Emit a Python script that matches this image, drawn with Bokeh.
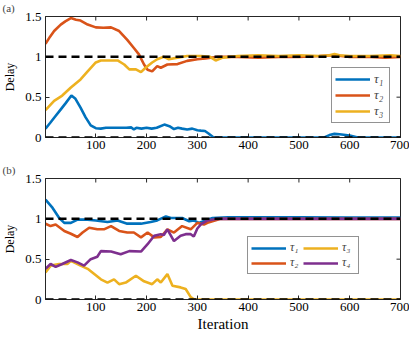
import math
from bokeh.plotting import figure
from bokeh.layouts import column
from bokeh.models import Range1d, Span, Legend, LegendItem, FixedTicker
from bokeh.embed import file_html
from bokeh.resources import INLINE

# ---------------- data ----------------
x_ticks = [100, 200, 300, 400, 500, 600, 700]
y_ticks = [0, 0.5, 1, 1.5]
y_tick_labels = ["0", "0.5", "1", "1.5"]
ref_levels = [1, 0]
x_lim = [1, 700]
y_lim = [0, 1.5]

# panel (a)
a_tau1_it = [1, 10, 20, 30, 40, 52, 60, 70, 80, 90, 100, 110, 120, 130, 140, 150, 160, 170, 175, 180,
             190, 200, 210, 220, 235, 245, 254, 262, 270, 280, 290, 300, 307, 315, 322, 332, 400, 500,
             550, 560, 570, 580, 600, 616, 700]
a_tau1 = [0.11, 0.18, 0.26, 0.34, 0.42, 0.52, 0.48, 0.37, 0.25, 0.15, 0.115, 0.11, 0.12, 0.12, 0.12,
          0.12, 0.12, 0.125, 0.10, 0.12, 0.11, 0.12, 0.11, 0.12, 0.16, 0.14, 0.105, 0.12, 0.11, 0.10,
          0.11, 0.09, 0.085, 0.08, 0.05, 0.0, 0.0, 0.0, 0.0, 0.03, 0.045, 0.04, 0.025, 0.0, 0.0]

a_tau2_it = [1, 10, 18, 31, 40, 51, 61, 70, 84, 100, 115, 130, 146, 162, 175, 185, 195, 202, 211, 221,
             228, 241, 261, 280, 300, 316, 340, 380, 420, 460, 500, 540, 570, 600, 640, 670, 700]
a_tau2 = [1.16, 1.25, 1.32, 1.40, 1.44, 1.48, 1.46, 1.45, 1.40, 1.365, 1.36, 1.365, 1.32, 1.21, 1.11,
          1.03, 0.905, 0.84, 0.82, 0.885, 0.865, 0.905, 0.91, 0.95, 0.97, 0.98, 1.0, 1.0, 0.99, 1.0,
          1.0, 1.01, 1.02, 1.0, 1.0, 0.99, 1.0]

a_tau3_it = [1, 18, 34, 51, 70, 84, 100, 110, 143, 156, 166, 179, 189, 198, 211, 221, 234, 244, 261,
             280, 307, 325, 336, 350, 380, 420, 460, 500, 540, 560, 570, 580, 600, 640, 680, 700]
a_tau3 = [0.34, 0.455, 0.52, 0.62, 0.72, 0.82, 0.93, 0.955, 0.955, 0.905, 0.845, 0.845, 0.81, 0.865,
          0.93, 0.97, 1.0, 0.97, 0.99, 1.01, 1.01, 1.0, 0.955, 0.99, 1.01, 1.02, 1.01, 1.02, 1.01,
          1.02, 1.035, 1.02, 1.01, 1.01, 1.02, 1.01]

# panel (b)
b_tau1_it = [1, 15, 28, 38, 51, 64, 84, 100, 123, 143, 162, 189, 208, 221, 238, 248, 270, 284, 293,
             303, 316, 330, 360, 400, 500, 600, 700]
b_tau1 = [1.24, 1.135, 1.01, 0.95, 0.95, 0.99, 0.99, 0.98, 0.96, 0.98, 0.94, 0.94, 0.96, 0.98, 1.03,
          1.01, 1.01, 0.97, 0.98, 0.95, 0.98, 1.01, 1.02, 1.02, 1.02, 1.015, 1.015]

b_tau2_it = [1, 11, 21, 38, 51, 64, 74, 87, 103, 116, 130, 146, 162, 175, 189, 202, 215, 228, 241,
             254, 270, 287, 300, 313, 320, 346, 400, 500, 600, 700]
b_tau2 = [0.94, 0.91, 0.93, 0.85, 0.815, 0.775, 0.83, 0.89, 0.87, 0.87, 0.91, 0.85, 0.83, 0.83, 0.77,
          0.83, 0.77, 0.775, 0.87, 0.83, 0.91, 0.87, 0.95, 0.93, 0.95, 1.0, 1.0, 1.0, 1.0, 1.0]

b_tau3_it = [1, 11, 28, 44, 51, 70, 84, 97, 110, 123, 136, 146, 159, 179, 195, 211, 221, 228, 241,
             251, 267, 277, 287, 294, 700]
b_tau3 = [0.336, 0.42, 0.44, 0.44, 0.48, 0.42, 0.38, 0.315, 0.25, 0.21, 0.25, 0.19, 0.21, 0.295,
          0.225, 0.19, 0.25, 0.21, 0.315, 0.17, 0.15, 0.13, 0.03, 0.0, 0.0]

b_tau4_it = [1, 11, 21, 34, 51, 64, 77, 90, 103, 110, 130, 149, 166, 189, 202, 215, 228, 234, 241,
             254, 267, 277, 287, 293, 300, 307, 320, 340, 400, 500, 600, 700]
b_tau4 = [0.38, 0.44, 0.405, 0.44, 0.49, 0.46, 0.42, 0.5, 0.53, 0.6, 0.595, 0.56, 0.6, 0.595, 0.685,
          0.79, 0.81, 0.8, 0.87, 0.725, 0.79, 0.81, 0.81, 0.78, 0.88, 0.93, 0.98, 1.0, 1.0, 1.0, 1.0, 1.0]

labels = ["τ₁", "τ₂", "τ₃", "τ₄"]
colors = ["#0072BD", "#D95319", "#EDB120", "#7E2F8E"]
panel_tags = ["(a)", "(b)"]

# ---------------- styling ----------------
FONT = "Liberation Serif"
INK = "#262626"
W = 409
LEFT = 45


def style_axis(ax):
    ax.major_tick_in = 4
    ax.major_tick_out = 0
    ax.minor_tick_line_color = None
    ax.axis_line_color = INK
    ax.major_tick_line_color = INK
    ax.major_label_text_font = FONT
    ax.major_label_text_color = "black"
    ax.major_label_text_font_size = "13px"
    ax.major_label_standoff = 4
    ax.axis_label_text_font = FONT
    ax.axis_label_text_font_style = "normal"
    ax.axis_label_text_color = "black"


def make_fig(height, top_border, bottom_border, tag, tag_standoff):
    p = figure(width=W, height=height, x_range=Range1d(*x_lim), y_range=Range1d(*y_lim),
               output_backend="svg", toolbar_location=None, min_border_left=LEFT, min_border_right=9,
               min_border_top=top_border, min_border_bottom=bottom_border)
    p.title.text = tag
    p.title.text_font = FONT
    p.title.text_font_size = "11px"
    p.title.text_font_style = "normal"
    p.title.align = "left"
    p.title.offset = -43
    p.title.standoff = tag_standoff
    p.title.vertical_align = "top"
    p.xgrid.visible = False
    p.ygrid.visible = False
    p.outline_line_color = INK
    p.background_fill_color = "white"
    p.border_fill_color = "white"
    p.xaxis.ticker = FixedTicker(ticks=x_ticks)
    p.yaxis.ticker = FixedTicker(ticks=y_ticks)
    p.yaxis.major_label_overrides = {t: s for t, s in zip(y_ticks, y_tick_labels)}
    style_axis(p.xaxis[0])
    style_axis(p.yaxis[0])
    p.xaxis.major_label_standoff = 3
    p.yaxis.axis_label = "Delay"
    p.yaxis.axis_label_text_font_size = "12px"
    p.yaxis.axis_label_standoff = 5
    # inward ticks on the top and right edges (half of each dash is clipped by the frame)
    p.scatter(x_ticks, [y_lim[1]] * len(x_ticks), marker="dash", angle=math.pi / 2, size=8,
              line_color=INK, line_width=1)
    p.scatter([x_lim[1]] * len(y_ticks), y_ticks, marker="dash", size=8,
              line_color=INK, line_width=1)
    return p


def add_refs(p):
    for lv in ref_levels:
        p.add_layout(Span(location=lv, dimension="width", line_color="black",
                          line_dash="8 5", line_width=2.5))


def legend_style(lg):
    lg.label_text_font = FONT
    lg.label_text_font_style = "italic"
    lg.margin = 0
    lg.padding = 3
    lg.border_line_color = INK
    lg.border_line_width = 1
    lg.background_fill_alpha = 1


# panel (a)
p1 = make_fig(163, 15, 26, panel_tags[0], 2)
series_a = [(a_tau1_it, a_tau1), (a_tau2_it, a_tau2), (a_tau3_it, a_tau3)]
ra = []
for (xs, ys), c in zip(series_a, colors):
    ra.append(p1.line(xs, ys, line_color=c, line_width=2.6))
add_refs(p1)
leg_a = Legend(items=[LegendItem(label=labels[i], renderers=[ra[i]]) for i in range(3)],
               location=(286, 14))
legend_style(leg_a)
leg_a.label_text_font_size = "13px"
leg_a.glyph_width = 35
leg_a.label_standoff = 4
leg_a.label_width = 12
leg_a.glyph_height = 14
leg_a.label_height = 14
leg_a.spacing = 0
p1.add_layout(leg_a, "center")

# panel (b)
p2 = make_fig(173, 14, 37, panel_tags[1], 1)
p2.xaxis.axis_label = "Iteration"
p2.xaxis.axis_label_text_font_size = "15px"
p2.xaxis.axis_label_standoff = 2
series_b = [(b_tau1_it, b_tau1), (b_tau2_it, b_tau2), (b_tau3_it, b_tau3), (b_tau4_it, b_tau4)]
rb = []
for (xs, ys), c in zip(series_b, colors):
    rb.append(p2.line(xs, ys, line_color=c, line_width=2.6))
add_refs(p2)
leg_b = Legend(items=[LegendItem(label=labels[i], renderers=[rb[i]]) for i in range(4)],
               location=(202, 25), ncols=2)
legend_style(leg_b)
leg_b.label_text_font_size = "12px"
leg_b.glyph_width = 35
leg_b.label_standoff = 4
leg_b.label_width = 13
leg_b.glyph_height = 12
leg_b.label_height = 12
leg_b.spacing = 0
p2.add_layout(leg_b, "center")

layout = column(p1, p2)
open("out.html", "w").write(file_html(layout, INLINE))
